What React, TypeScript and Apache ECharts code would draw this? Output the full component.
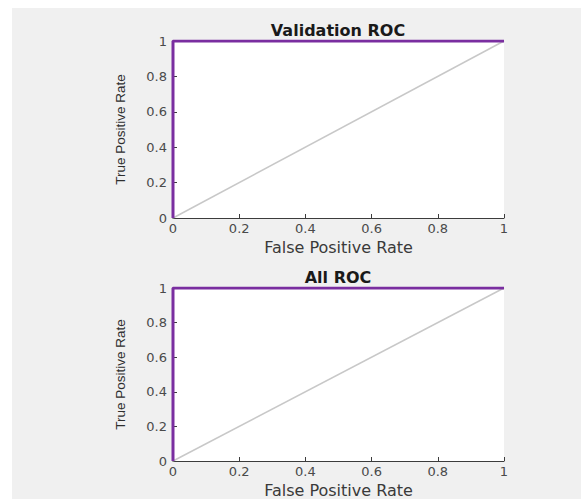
import React, { useEffect, useRef } from "react";
import * as echarts from "echarts";

const rocX: number[] = [0, 0, 1];
const rocY: number[] = [0, 1, 1];
const diagX: number[] = [0, 1];
const diagY: number[] = [0, 1];
const titles: string[] = ["Validation ROC", "All ROC"];
const xName = "False Positive Rate";
const yName = "True Positive Rate";

const PURPLE = "#7a2ea0";
const GRAY = "#c8c8c8";
const TICK = "#4a4a4a";

export default function App() {
  const ref = useRef<HTMLDivElement>(null);
  useEffect(() => {
    document.body.style.margin = "0";
    const chart = echarts.init(ref.current!, null, { renderer: "svg" });
    const grids = [
      { left: 173, top: 41, width: 331, height: 177 },
      { left: 173, top: 288, width: 331, height: 178 },
    ];
    const axisCommon = {
      type: "value" as const,
      min: 0,
      max: 1,
      interval: 0.2,
      splitLine: { show: false },
      axisLine: { show: true, lineStyle: { color: "#3c3c3c", width: 1 } },
      axisTick: { show: true, inside: true, length: 4, lineStyle: { color: "#3c3c3c" } },
      axisLabel: {
        color: TICK,
        fontFamily: "DejaVu Sans",
        fontSize: 13,
        formatter: (v: number) => String(Math.round(v * 10) / 10),
      },
    };
    const xAxis = grids.map((_, i) => ({
      ...axisCommon,
      gridIndex: i,
      name: xName,
      nameLocation: "middle" as const,
      nameGap: 21,
      nameTextStyle: { color: "#3a3a3a", fontFamily: "DejaVu Sans", fontSize: 16 },
      axisLabel: { ...axisCommon.axisLabel, margin: 4 },
    }));
    const yAxis = grids.map((_, i) => ({
      ...axisCommon,
      gridIndex: i,
      name: yName,
      nameLocation: "middle" as const,
      nameGap: 46,
      nameTextStyle: { color: "#2e2e2e", fontFamily: "Liberation Sans", fontSize: 13.5 },
      axisLabel: { ...axisCommon.axisLabel, margin: 6 },
    }));
    const series: any[] = [];
    grids.forEach((_, i) => {
      series.push({
        type: "line",
        xAxisIndex: i,
        yAxisIndex: i,
        data: diagX.map((x, k) => [x, diagY[k]]),
        showSymbol: false,
        lineStyle: { color: GRAY, width: 1.5 },
        z: 2,
      });
      series.push({
        type: "line",
        xAxisIndex: i,
        yAxisIndex: i,
        data: rocX.map((x, k) => [x, rocY[k]]),
        showSymbol: false,
        lineStyle: { color: PURPLE, width: 3 },
        z: 3,
      });
    });
    chart.setOption({
      animation: false,
      backgroundColor: "#ffffff",
      grid: grids.map((g) => ({ ...g, show: true, backgroundColor: "#ffffff", borderWidth: 0 })),
      xAxis,
      yAxis,
      series,
      graphic: [
        {
          type: "rect",
          shape: { x: 12, y: 8, width: 569, height: 491 },
          style: { fill: "#f0f0f0" },
          z: -100,
          silent: true,
        },
        {
          type: "text",
          x: 338,
          y: 30,
          style: {
            text: titles[0],
            textAlign: "center",
            textVerticalAlign: "middle",
            font: "bold 16px 'DejaVu Sans'",
            fill: "#1a1a1a",
          },
        },
        {
          type: "text",
          x: 338,
          y: 277,
          style: {
            text: titles[1],
            textAlign: "center",
            textVerticalAlign: "middle",
            font: "bold 16px 'DejaVu Sans'",
            fill: "#1a1a1a",
          },
        },
      ],
    });
    return () => chart.dispose();
  }, []);
  return (
    <div
      ref={ref}
      style={{ position: "absolute", left: 0, top: 0, width: 581, height: 499 }}
    />
  );
}
